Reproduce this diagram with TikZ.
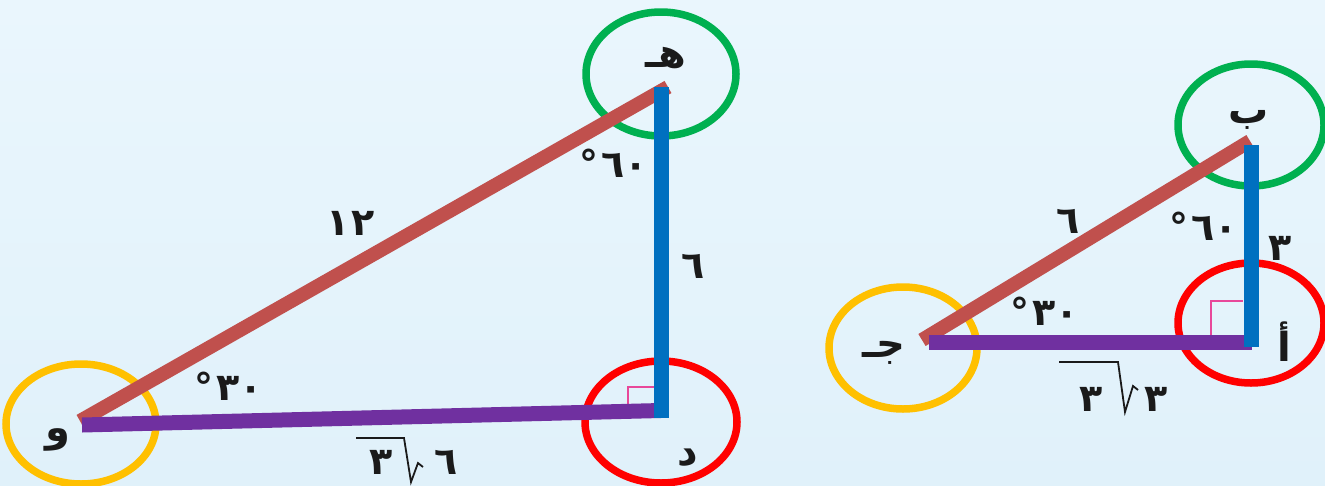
\documentclass[tikz,border=0pt]{standalone}
\usepackage{fontspec}
\newfontfamily\arabicfont[Script=Arabic]{DejaVu Sans}
\newfontfamily\numfont{DejaVu Sans}
\TeXXeTstate=1
\definecolor{bgtop}{HTML}{EAF6FD}
\definecolor{bgbot}{HTML}{E0F1FA}
\definecolor{hypred}{HTML}{C0504D}
\definecolor{basepurple}{HTML}{7030A0}
\definecolor{legblue}{HTML}{0070C0}
\definecolor{ringgreen}{HTML}{00B050}
\definecolor{ringyellow}{HTML}{FFC000}
\definecolor{ringred}{HTML}{FF0000}
\definecolor{rightpink}{HTML}{E8489A}
\definecolor{txt}{HTML}{1A1A1A}
\newcommand{\degsign}{°\hspace{3pt}}
\tikzset{
  ring/.style={draw=#1, line width=7.5pt},
  hyp/.style={draw=hypred, line width=14pt},
  basel/.style={draw=basepurple, line width=15pt},
  leg/.style={draw=legblue, line width=15pt},
  rmark/.style={draw=rightpink, line width=2pt},
  rad/.style={draw=txt, line width=1.8pt, line join=miter},
  lbl/.style={inner sep=0pt, text=txt, font=\arabicfont\bfseries\fontsize{40}{44}\selectfont},
  num/.style={inner sep=0pt, text=txt, font=\numfont\bfseries\fontsize{38}{42}\selectfont},
}
\begin{document}
\begin{tikzpicture}[x=1pt,y=-1pt]
\shade[top color=bgtop, bottom color=bgbot] (0,0) rectangle (1325,485);
\useasboundingbox (0,0) rectangle (1325,485);

% ---------- left triangle ----------
\coordinate (W) at (81,424);
\coordinate (H) at (668,87);
\coordinate (D) at (661,411);
\coordinate (Wb) at (82,425);
\coordinate (Db) at (661,410.5);
\coordinate (Dv) at (661,418);

\draw[ring=ringyellow] (81,424) ellipse [x radius=75pt, y radius=60pt];
\draw[ring=ringgreen] (661,74) ellipse [x radius=75pt, y radius=62pt];
\draw[ring=ringred] (661,422) ellipse [x radius=76pt, y radius=61pt];

\draw[rmark] (628,405) -- (628,387) -- (655,387);
\draw[hyp] (80,421) -- (H);
\draw[basel] (Wb) -- (Db);
\draw[leg] (Dv) -- (661,87);

\node[lbl] (lh) at (666,58) {\beginR هـ\endR};
\node[lbl] (lw) at (58,440) {\beginR و\endR};
\node[lbl] (ld) at (688,458) {\beginR د\endR};
\node[num] (l12) at (351,223) {١\hspace{2pt}٢};
\node[num] (l6) at (693,266) {٦};
\node[num] (l60) at (614,163) {\degsign٦٠};
\node[num] (l30) at (229,386) {\degsign٣٠};

\node[num] (lr3) at (381,462) {٣};
\node[num] (lr6) at (446,462) {٦};
\coordinate (lv1) at (356,438);
\coordinate (lv2) at (404,438);
\coordinate (lv3) at (411,482);
\coordinate (lv4) at (418,463);
\coordinate (lv5) at (423,467);
\draw[rad] (lv1) -- (lv2) -- (lv3) -- (lv4) -- (lv5);

% ---------- right triangle ----------
\coordinate (J) at (922,340);
\coordinate (B) at (1250,141);
\coordinate (A) at (1251,342);

\draw[ring=ringyellow] (903,348) ellipse [x radius=74pt, y radius=61pt];
\draw[ring=ringgreen] (1251,125) ellipse [x radius=73pt, y radius=61pt];
\draw[ring=ringred] (1251,323) ellipse [x radius=73pt, y radius=60pt];

\draw[rmark] (1211,335) -- (1211,301) -- (1243,301);
\draw[hyp] (J) -- (B);
\draw[basel] (929,342) -- (1252,342);
\draw[leg] (1251,347) -- (1251,145);

\node[lbl] (rb) at (1249,120) {\beginR ب\endR};
\node[lbl] (ra) at (1284,342) {\beginR أ\endR};
\node[lbl] (rj) at (884,353) {\beginR جـ\endR};
\node[num] (r3) at (1280,248) {٣};
\node[num] (r6) at (1068,221) {٦};
\node[num] (r60) at (1204,226) {\degsign٦٠};
\node[num] (r30) at (1045,311) {\degsign٣٠};

\node[num] (rr3a) at (1091,399) {٣};
\node[num] (rr3b) at (1156,399) {٣};
\coordinate (rv1) at (1059,362);
\coordinate (rv2) at (1118,362);
\coordinate (rv3) at (1125,412);
\coordinate (rv4) at (1133,386);
\coordinate (rv5) at (1138,390);
\draw[rad] (rv1) -- (rv2) -- (rv3) -- (rv4) -- (rv5);
\end{tikzpicture}
\end{document}
